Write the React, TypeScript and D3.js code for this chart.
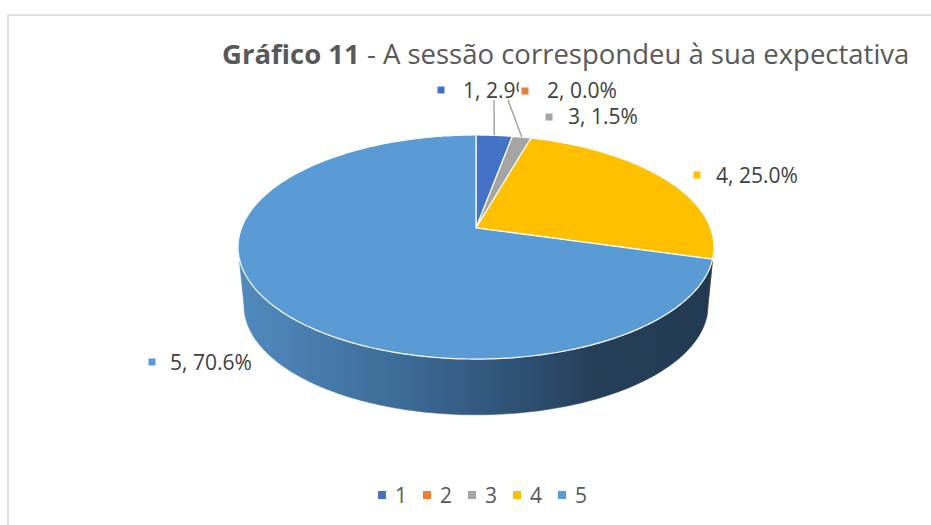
import React from "react";
import * as d3 from "d3";

const categories = ["1", "2", "3", "4", "5"];
const percentages = [2.9, 0.0, 1.5, 25.0, 70.6];
const sliceColors = ["#4472c4", "#ed7d31", "#a5a5a5", "#ffc000", "#5b9bd5"];
const titleBold = "Gráfico 11";
const titleRest = " - A sessão correspondeu à sua expectativa";

const W = 931;
const H = 525;
const FONT = "'Open Sans', 'Liberation Sans', sans-serif";

// projection parameters (perspective-tilted disc)
const cx = 476;
const cy0 = 228;
const A = 234.5;
const B = 108.8;
const K = 0.17;
const DEPTH = 59;
const SHRINK = 0.975;

function projTop(theta: number, r = 1): [number, number] {
  const u = r * Math.sin(theta);
  const v = r * Math.cos(theta);
  const w = 1 + K * v;
  return [cx + (A * u) / w, cy0 - (B * v) / w];
}
function projBottom(theta: number): [number, number] {
  const [x, y] = projTop(theta);
  return [cx + SHRINK * (x - cx), cy0 + SHRINK * (y - cy0) + DEPTH];
}

function arcPoints(a: number, b: number, f: (t: number) => [number, number]) {
  const n = Math.max(2, Math.ceil((Math.abs(b - a) * 180) / Math.PI));
  const pts: [number, number][] = [];
  for (let i = 0; i <= n; i++) pts.push(f(a + ((b - a) * i) / n));
  return pts;
}

const line = d3.line();

export default function App() {
  const pie = d3
    .pie<number>()
    .sort(null)
    .value((d) => d)
    .startAngle(0)
    .endAngle(2 * Math.PI);
  const arcs = pie(percentages);

  // visible front range (silhouette tangent points)
  const vR = Math.atan2(Math.sqrt(1 - K * K), -K);
  const vL = 2 * Math.PI - vR;

  const sides = arcs
    .map((a, i) => {
      const s = Math.max(a.startAngle, vR);
      const e = Math.min(a.endAngle, vL);
      if (e <= s) return null;
      const top = arcPoints(s, e, (t) => projTop(t));
      const bot = arcPoints(e, s, (t) => projBottom(t));
      return { i, d: line([...top, ...bot])! + "Z" };
    })
    .filter(Boolean) as { i: number; d: string }[];

  const tops = arcs.map((a, i) => {
    const pts = arcPoints(a.startAngle, a.endAngle, (t) => projTop(t));
    return { i, d: line([[cx, cy0], ...pts])! + "Z", zero: a.endAngle - a.startAngle < 1e-6 };
  });

  const mid = (i: number) => (arcs[i].startAngle + arcs[i].endAngle) / 2;

  const labelText = (i: number) => `${categories[i]}, ${percentages[i].toFixed(1)}%`;

  // label layout: marker center, text x, baseline
  const labelLayout = [
    { mx: 441, my: 90, tx: 463, ty: 98 },
    { mx: 525, my: 91, tx: 547, ty: 98 },
    { mx: 549, my: 117, tx: 568, ty: 124 },
    { mx: 697, my: 175, tx: 716, ty: 183 },
    { mx: 152, my: 362, tx: 170, ty: 370 },
  ];

  const leaderTop = [[494, 100], null, [508, 100]];

  const fs = 21;
  const ms = 7;

  return (
    <svg
      width={W}
      height={H}
      style={{ position: "absolute", left: 0, top: 0, display: "block", background: "#fff" }}
    >
      <defs>
        <linearGradient id="side5" gradientUnits="userSpaceOnUse" x1={238} y1={0} x2={714} y2={0}>
          <stop offset="0" stopColor="#528bc0" />
          <stop offset="0.33" stopColor="#3e6c99" />
          <stop offset="0.55" stopColor="#30557a" />
          <stop offset="0.75" stopColor="#263f59" />
          <stop offset="1" stopColor="#223950" />
        </linearGradient>
      </defs>
      <path d={`M8,${H + 2}V15H${W + 2}`} fill="none" stroke="#d9d9d9" strokeWidth={1.5} />

      <text x={222} y={64} fontFamily={FONT} fontSize={27.5} fill="#595959">
        <tspan fontWeight="bold">{titleBold}</tspan>
        <tspan>{titleRest}</tspan>
      </text>

      {sides.map((s) => (
        <path
          key={"s" + s.i}
          d={s.d}
          fill={s.i === 4 ? "url(#side5)" : "#8a6800"}
          stroke={s.i === 4 ? "url(#side5)" : "#8a6800"}
          strokeWidth={0.5}
        />
      ))}
      {tops
        .filter((t) => !t.zero)
        .map((t) => (
          <path key={"t" + t.i} d={t.d} fill={sliceColors[t.i]} stroke="#fff" strokeWidth={1.2} strokeLinejoin="round" />
        ))}

      {leaderTop.map((p, i) => {
        if (!p) return null;
        const [ex, ey] = projTop(mid(i));
        return <line key={"l" + i} x1={p[0]} y1={p[1]} x2={ex} y2={ey} stroke="#a6a6a6" strokeWidth={1.5} />;
      })}

      {categories.map((c, i) => {
        const L = labelLayout[i];
        return (
          <g key={"lab" + i}>
            {i === 1 && <rect x={519} y={78} width={104} height={25} fill="#fff" />}
            <rect x={L.mx - ms / 2} y={L.my - ms / 2} width={ms} height={ms} fill={sliceColors[i]} />
            <text x={L.tx} y={L.ty} fontFamily={FONT} fontSize={fs} fill="#404040">
              {labelText(i)}
            </text>
          </g>
        );
      })}

      {categories.map((c, i) => (
        <g key={"leg" + i}>
          <rect x={378 + 45 * i} y={491} width={8} height={8} fill={sliceColors[i]} />
          <text x={395 + 45 * i} y={503} fontFamily={FONT} fontSize={21} fill="#595959">
            {c}
          </text>
        </g>
      ))}
    </svg>
  );
}
